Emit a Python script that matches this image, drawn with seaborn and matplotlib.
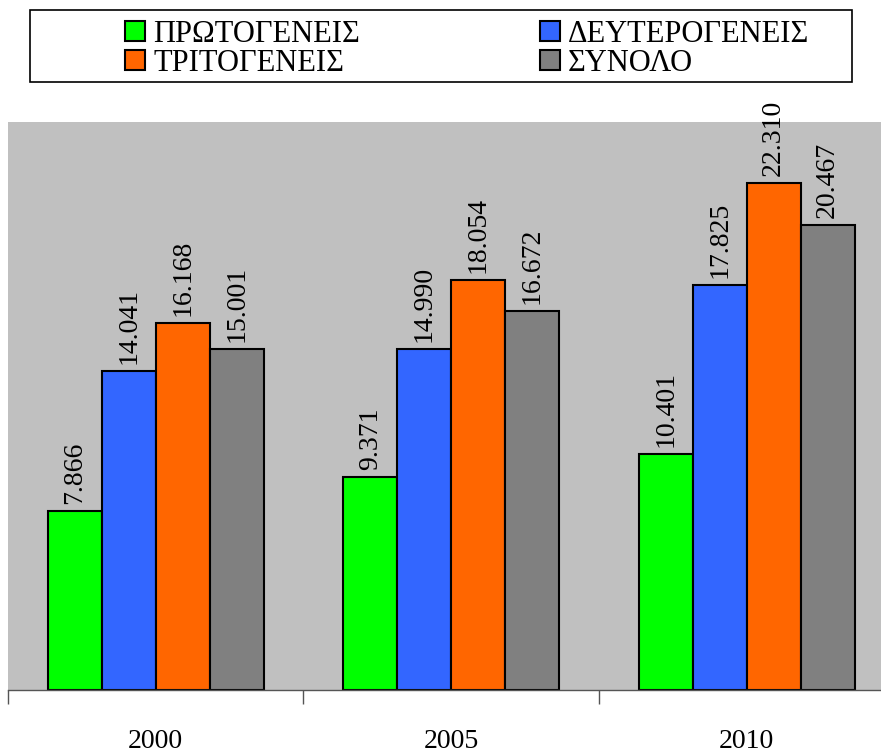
import pandas as pd
import seaborn as sns
import matplotlib.pyplot as plt
from matplotlib.patches import Rectangle, Patch

# Data
years = ["2000", "2005", "2010"]
sectors = ["ΠΡΩΤΟΓΕΝΕΙΣ", "ΔΕΥΤΕΡΟΓΕΝΕΙΣ", "ΤΡΙΤΟΓΕΝΕΙΣ", "ΣΥΝΟΛΟ"]
primary = [7.866, 9.371, 10.401]
secondary = [14.041, 14.990, 17.825]
tertiary = [16.168, 18.054, 22.310]
total = [15.001, 16.672, 20.467]
colors = ["#00FF00", "#3366FF", "#FF6600", "#808080"]

rows = []
for name, vals in zip(sectors, [primary, secondary, tertiary, total]):
    for y, v in zip(years, vals):
        rows.append({"year": y, "sector": name, "value": v})
df = pd.DataFrame(rows)

sns.set_theme(style="white")
plt.rcParams['font.family'] = ['Liberation Serif', 'DejaVu Serif']
plt.rcParams['text.color'] = 'black'
plt.rcParams['xtick.color'] = 'black'

fig = plt.figure(figsize=(8.81, 7.54), dpi=100)
W, H = 881, 754
ax = fig.add_axes([8 / W, (H - 690) / H, 873 / W, 568 / H])

sns.barplot(data=df, x="year", y="value", hue="sector", order=years,
            hue_order=sectors, palette=colors, width=0.73, gap=0,
            edgecolor="black", linewidth=1.5, saturation=1, ax=ax, legend=False)

ax.set_facecolor("#C0C0C0")
ax.set_ylim(0, 25)
ax.set_xlim(-0.5, -0.5 + 873 / 295.5)
ax.set_xlabel("")
ax.set_ylabel("")
ax.set_yticks([])
for s in ["left", "right", "top"]:
    ax.spines[s].set_visible(False)
ax.spines["bottom"].set_color("#555555")
ax.spines["bottom"].set_linewidth(1)

# category separators as minor ticks
ax.set_xticks([-0.5, 0.5, 1.5], minor=True)
ax.tick_params(axis="x", which="minor", length=10, width=1, color="#555555",
               direction="out", bottom=True)
ax.tick_params(axis="x", which="major", length=0, pad=28, labelsize=20,
               labelcolor="black")

for cont in ax.containers:
    ax.bar_label(cont, labels=[f"{v:.3f}" for v in cont.datavalues],
                 rotation=90, padding=5, fontsize=20, color="black")

# legend with a separate frame
frame = Rectangle((30 / W, 1 - 82 / H), 822 / W, 72 / H, transform=fig.transFigure,
                  facecolor="white", edgecolor="black", linewidth=1.2)
fig.patches.append(frame)
handles = [Patch(facecolor=c, edgecolor="black", linewidth=1.5) for c in colors]
order = [0, 2, 1, 3]
fig.legend([handles[i] for i in order], [sectors[i] for i in order],
           ncol=2, frameon=False, loc="center left",
           bbox_to_anchor=(110 / W, 1 - 49 / H), fontsize=22,
           handlelength=0.65, handleheight=0.65, handletextpad=0.26,
           columnspacing=5.9, labelspacing=0.0, borderpad=0,
           labelcolor="black")

fig.savefig("out.png", dpi=100)
